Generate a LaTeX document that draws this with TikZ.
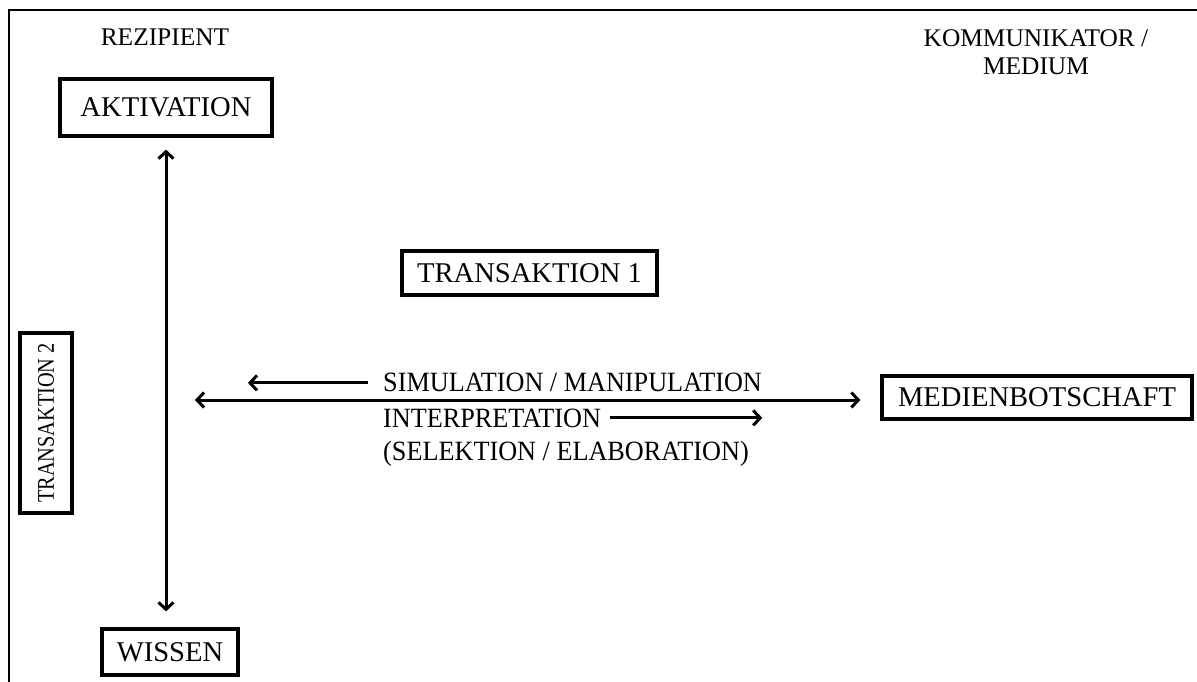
\documentclass[tikz,border=0pt]{standalone}
\usepackage{fontspec}
\setmainfont{Liberation Serif}
\newfontfamily\labfont[FakeStretch=0.94]{Liberation Serif}
\newfontfamily\narrowfont[FakeStretch=0.85]{Liberation Serif}
\usetikzlibrary{arrows.meta}
\begin{document}
\begin{tikzpicture}[x=1bp, y=-1bp,
  boxnode/.style={draw, line width=3.2bp, inner sep=0pt, align=center,
    font=\fontsize{28.7}{32}\selectfont},
  headnode/.style={inner sep=0pt, align=center,
    font=\fontsize{25.5}{28}\selectfont},
  labnode/.style={inner sep=0pt, font=\labfont\fontsize{28}{33}\selectfont},
  arr/.style={line width=3bp, -{Straight Barb[length=7bp,width=15bp]}},
  dblarr/.style={line width=3bp, {Straight Barb[length=7bp,width=15bp]}-{Straight Barb[length=7bp,width=15bp]}},
  frameline/.style={line width=2bp}
]
\useasboundingbox[fill=white] (0,0) rectangle (1197,682);

% outer frame (top and left edges)
\draw[frameline] (9,682) -- (9,10) -- (1197,10);

% headings
\node[headnode] (rez) at (165,37) {REZIPIENT};
\node[headnode] (kom) at (1036,52) {KOMMUNIKATOR /\\MEDIUM};

% boxes
\node[boxnode, minimum width=212bp, minimum height=57bp] (akt) at (166,107.5) {AKTIVATION};
\node[boxnode, minimum width=136bp, minimum height=46bp] (wis) at (170,652) {WISSEN};
\node[boxnode, minimum width=255bp, minimum height=44bp] (tr1) at (529.5,273) {TRANSAKTION 1};
\node[boxnode, minimum width=180bp, minimum height=52bp, rotate=90,
  font=\narrowfont\fontsize{24}{28}\selectfont] (tr2) at (46,423) {TRANSAKTION 2};
\node[boxnode, minimum width=310bp, minimum height=43bp] (med) at (1037,397.5) {MEDIENBOTSCHAFT};

% vertical double arrow between activation and knowledge
\draw[dblarr, shorten <=12bp, shorten >=16bp] (akt.south) -- (akt.south |- wis.north);

% horizontal double arrow towards the media message
\coordinate (hl) at (195,400);
\draw[dblarr, shorten >=20bp] (hl) -- (hl -| med.west);

% labels on the horizontal arrow
\node[labnode, anchor=base west] (sim) at (383,391) {SIMULATION / MANIPULATION};
\node[labnode, anchor=base west] (int) at (383,427) {INTERPRETATION};
\node[labnode, anchor=base west] (sel) at (383,460) {(SELEKTION / ELABORATION)};

% direction arrows next to the labels
\draw[arr] ([xshift=-15bp,yshift=-1bp]sim.west) -- ([xshift=-135bp,yshift=-1bp]sim.west);
\draw[arr] ([xshift=9bp]int.east) -- ([xshift=161bp]int.east);
\end{tikzpicture}
\end{document}
